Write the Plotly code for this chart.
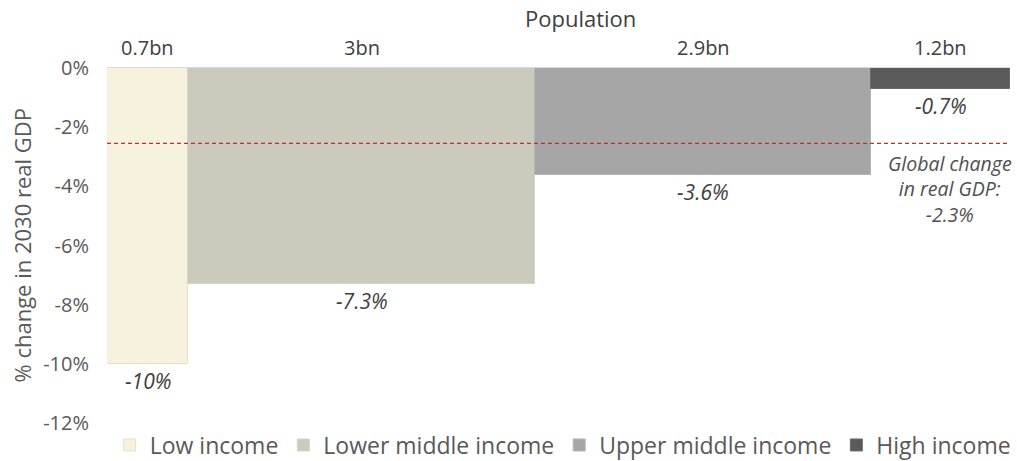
import plotly.graph_objects as go

categories = ["Low income", "Lower middle income", "Upper middle income", "High income"]
population_bn = [0.7, 3.0, 2.9, 1.2]
population_labels = ["0.7bn", "3bn", "2.9bn", "1.2bn"]
gdp_change = [-10.0, -7.3, -3.6, -0.7]
value_labels = ["-10%", "-7.3%", "-3.6%", "-0.7%"]
global_line_level = -2.55
global_label = "Global change<br>in real GDP:<br>-2.3%"
colors = ["#f7f2dd", "#cccabc", "#a6a6a6", "#5a5a5a"]
edge_colors = ["#e6e1cc", "#d6d4c8", "#b4b4b4", "#6a6a6a"]
ytick_vals = [0, -2, -4, -6, -8, -10, -12]
ytick_text = ["0%", "-2%", "-4%", "-6%", "-8%", "-10%", "-12%"]

FONT = "Open Sans"
GREY = "#595959"

# cumulative positions for variable-width bars
lefts = []
acc = 0.0
for p in population_bn:
    lefts.append(acc)
    acc += p
total = acc
centers = [l + p / 2 for l, p in zip(lefts, population_bn)]

fig = go.Figure()
for i, cat in enumerate(categories):
    fig.add_trace(go.Bar(
        x=[centers[i]], y=[gdp_change[i]], width=[population_bn[i]],
        name=cat,
        marker=dict(color=colors[i], line=dict(color=edge_colors[i], width=1)),
        hoverinfo="skip",
    ))

# population labels above bars
for c, lab in zip(centers, population_labels):
    fig.add_annotation(x=c, y=0, xref="x", yref="y", text=lab, showarrow=False,
                       yshift=21, yanchor="middle",
                       font=dict(family=FONT, size=20, color="#404040"))

# value labels below bar ends
for c, v, lab in zip(centers, gdp_change, value_labels):
    fig.add_annotation(x=c, y=v, xref="x", yref="y", text="<i>" + lab + "</i>",
                       showarrow=False, yshift=-17, yanchor="middle",
                       font=dict(family=FONT, size=21, color="#404040"))

# global change dashed line and label
fig.add_shape(type="line", xref="x", yref="y", x0=0, x1=total * 1.008,
              y0=global_line_level, y1=global_line_level,
              line=dict(color="#b83232", width=1.3, dash="4px,3px"))
fig.add_annotation(x=centers[3], y=global_line_level, xref="x", yref="y",
                   text="<i>" + global_label + "</i>", showarrow=False,
                   yanchor="top", yshift=-5, xshift=9, align="center",
                   font=dict(family=FONT, size=19.5, color="#505050"))

# Population title
fig.add_annotation(x=0.524, y=1, xref="paper", yref="paper", text="Population",
                   showarrow=False, yshift=50, yanchor="middle",
                   font=dict(family=FONT, size=22, color="#404040"))

# y-axis title (as rotated text)
fig.add_annotation(x=0, y=0.5, xref="paper", yref="paper",
                   text="% change in 2030 real GDP", textangle=-90,
                   showarrow=False, xshift=-86, xanchor="center", yanchor="middle",
                   font=dict(family=FONT, size=22, color=GREY))

fig.update_layout(
    width=1017, height=461,
    margin=dict(l=107, r=7, t=68, b=38, autoexpand=False),
    paper_bgcolor="white", plot_bgcolor="white",
    barmode="overlay", bargap=0,
    showlegend=True,
    legend=dict(orientation="h", x=0.003, xanchor="left", y=-0.062, yanchor="middle",
                font=dict(family=FONT, size=23, color=GREY),
                itemwidth=30, traceorder="normal", tracegroupgap=0),
    xaxis=dict(range=[0, total], showticklabels=False, showgrid=False, zeroline=False,
               showline=True, linecolor="#d9d9d9", linewidth=1, side="top",
               fixedrange=True, automargin=False),
    yaxis=dict(range=[-12, 0], tickvals=ytick_vals, ticktext=ytick_text,
               showgrid=False, zeroline=False, showline=False, ticks="",
               ticklabelstandoff=17, automargin=False,
               tickfont=dict(family=FONT, size=20, color=GREY),
               fixedrange=True),
)

fig.write_html("out.html", config={"displayModeBar": False},
               post_script="document.body.style.margin='0';document.body.style.overflow='hidden';")
